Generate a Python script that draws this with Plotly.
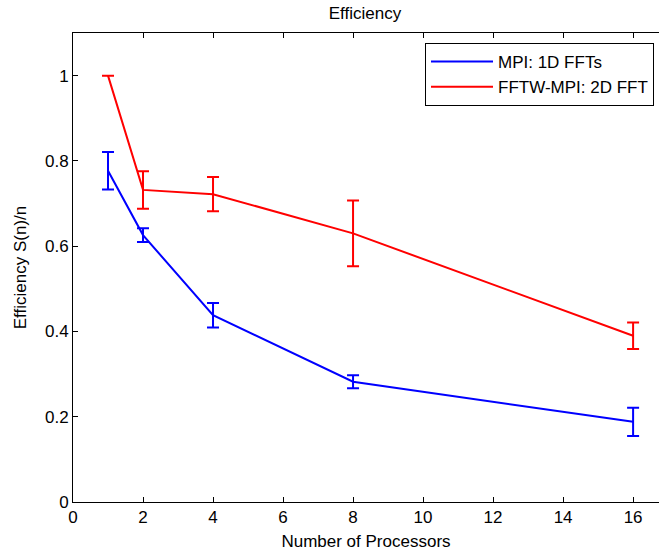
import plotly.graph_objects as go

processors = [1, 2, 4, 8, 16]

mpi_name = "MPI: 1D FFTs"
mpi_eff = [0.777, 0.626, 0.438, 0.282, 0.188]
mpi_err = [0.044, 0.016, 0.029, 0.015, 0.033]

fftw_name = "FFTW-MPI: 2D FFT"
fftw_eff = [1.0, 0.732, 0.722, 0.630, 0.390]
fftw_err = [0.0, 0.044, 0.040, 0.077, 0.031]

x_ticks = [0, 2, 4, 6, 8, 10, 12, 14, 16]
y_ticks = [0, 0.2, 0.4, 0.6, 0.8, 1.0]

FONT = "Liberation Sans, Arial, sans-serif"

fig = go.Figure()
for name, y, e, color in [
    (mpi_name, mpi_eff, mpi_err, "#0000FF"),
    (fftw_name, fftw_eff, fftw_err, "#FF0000"),
]:
    fig.add_trace(go.Scatter(
        x=processors, y=y, mode="lines", name=name,
        line=dict(color=color, width=2),
        error_y=dict(type="data", array=e, visible=True, color=color,
                     thickness=2, width=6),
    ))

fig.update_layout(
    width=659, height=554, autosize=False,
    margin=dict(l=73, r=0, t=33, b=52),
    paper_bgcolor="white", plot_bgcolor="white",
    font=dict(family=FONT, size=17, color="black"),
    title=dict(text="Efficiency", x=(365) / 659, xanchor="center",
               y=1 - 13 / 554, yanchor="middle",
               font=dict(family=FONT, size=17, color="black")),
    showlegend=True,
    legend=dict(x=(425 - 73) / 586, y=(502 - 43) / 469, xanchor="left", yanchor="top",
                bordercolor="black", borderwidth=1, bgcolor="white",
                font=dict(family=FONT, size=17, color="black"),
                itemwidth=62),
    xaxis=dict(range=[0, 16.74], tickvals=x_ticks, ticks="inside", ticklen=5,
               tickcolor="black", showline=True, linecolor="black", linewidth=1,
               mirror="ticks", showgrid=False, zeroline=False,
               tickfont=dict(family=FONT, size=17),
               title=dict(text="Number of Processors", standoff=8,
                          font=dict(family=FONT, size=17))),
    yaxis=dict(range=[0, 1.1], tickvals=y_ticks, ticks="inside", ticklen=5,
               tickcolor="black", showline=True, linecolor="black", linewidth=1,
               mirror=False, showgrid=False, zeroline=False,
               tickfont=dict(family=FONT, size=17),
               title=dict(text="Efficiency S(n)/n", standoff=14,
                          font=dict(family=FONT, size=17))),
)

fig.write_html("out.html")
